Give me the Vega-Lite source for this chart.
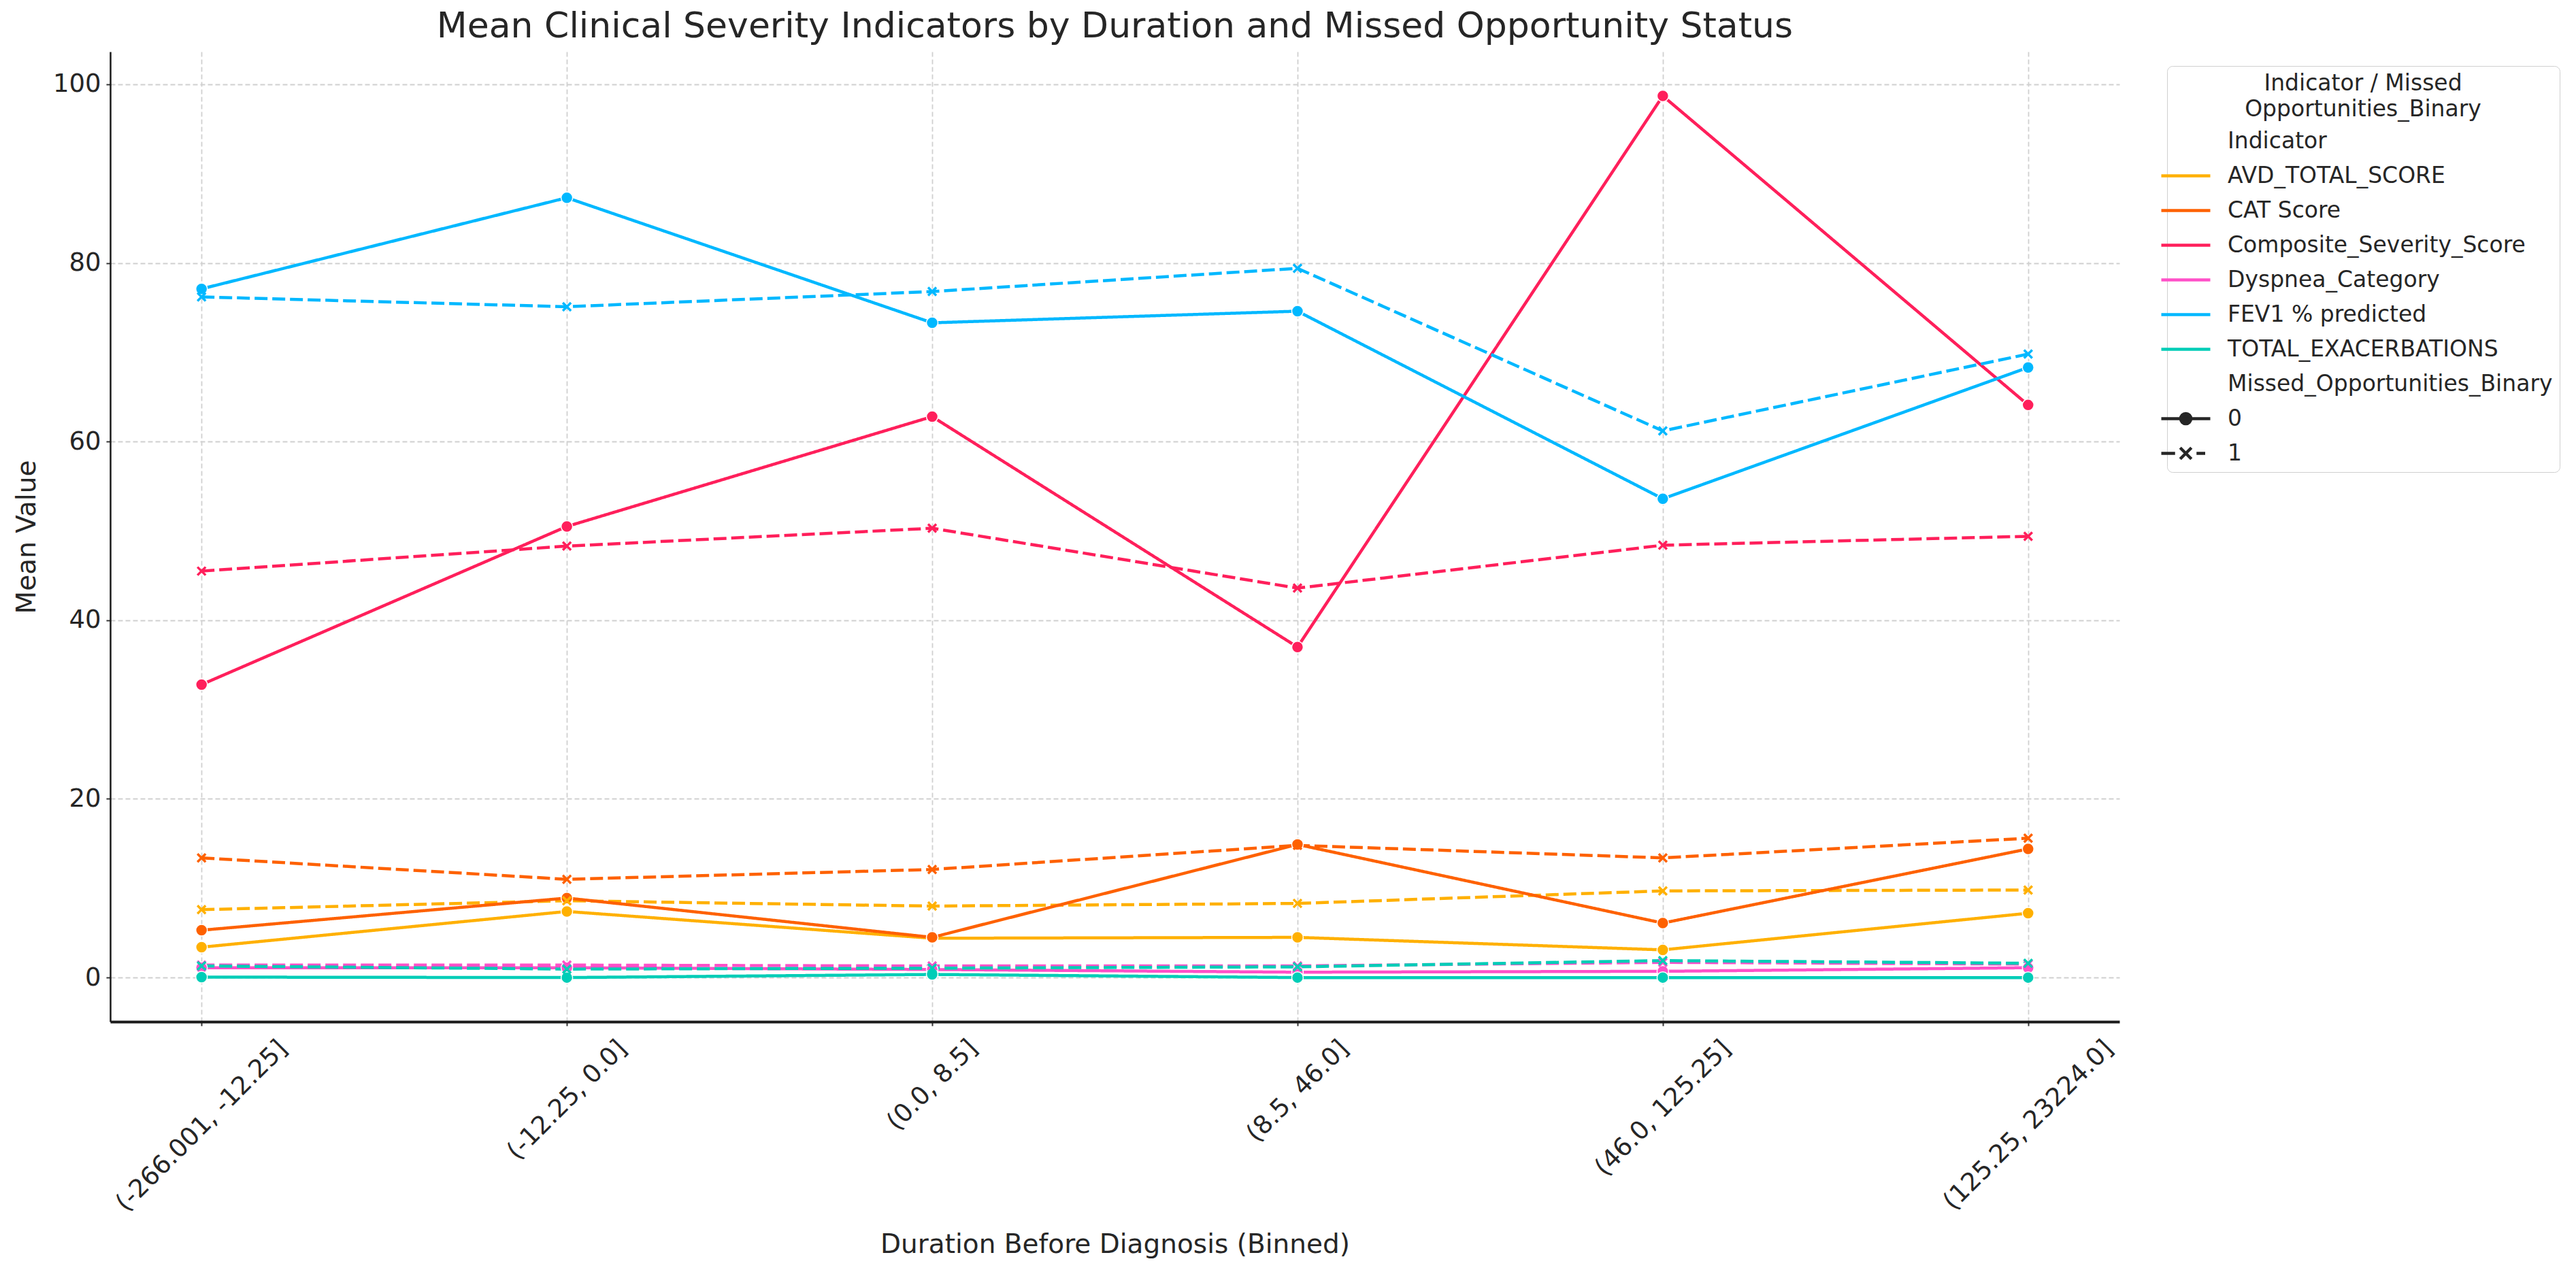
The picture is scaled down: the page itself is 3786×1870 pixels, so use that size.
{
  "$schema": "https://vega.github.io/schema/vega-lite/v6.json",
  "width": 2953,
  "height": 1426,
  "autosize": {"type": "none"},
  "padding": {"left": 162, "top": 76, "right": 671, "bottom": 368},
  "background": "white",
  "title": {
    "text": "Mean Clinical Severity Indicators by Duration and Missed Opportunity Status",
    "font": "DejaVu Sans",
    "fontSize": 52,
    "fontWeight": "normal",
    "color": "#262626",
    "anchor": "middle",
    "frame": "group",
    "baseline": "alphabetic",
    "offset": -31
  },
  "data": {
    "values": [
      {"Bin": "(-266.001, -12.25]", "Indicator": "AVD_TOTAL_SCORE", "Missed": "0", "Value": 3.4},
      {"Bin": "(-12.25, 0.0]", "Indicator": "AVD_TOTAL_SCORE", "Missed": "0", "Value": 7.4},
      {"Bin": "(0.0, 8.5]", "Indicator": "AVD_TOTAL_SCORE", "Missed": "0", "Value": 4.4},
      {"Bin": "(8.5, 46.0]", "Indicator": "AVD_TOTAL_SCORE", "Missed": "0", "Value": 4.5},
      {"Bin": "(46.0, 125.25]", "Indicator": "AVD_TOTAL_SCORE", "Missed": "0", "Value": 3.1},
      {"Bin": "(125.25, 23224.0]", "Indicator": "AVD_TOTAL_SCORE", "Missed": "0", "Value": 7.2},
      {"Bin": "(-266.001, -12.25]", "Indicator": "AVD_TOTAL_SCORE", "Missed": "1", "Value": 7.6},
      {"Bin": "(-12.25, 0.0]", "Indicator": "AVD_TOTAL_SCORE", "Missed": "1", "Value": 8.6},
      {"Bin": "(0.0, 8.5]", "Indicator": "AVD_TOTAL_SCORE", "Missed": "1", "Value": 8.0},
      {"Bin": "(8.5, 46.0]", "Indicator": "AVD_TOTAL_SCORE", "Missed": "1", "Value": 8.3},
      {"Bin": "(46.0, 125.25]", "Indicator": "AVD_TOTAL_SCORE", "Missed": "1", "Value": 9.7},
      {"Bin": "(125.25, 23224.0]", "Indicator": "AVD_TOTAL_SCORE", "Missed": "1", "Value": 9.8},
      {"Bin": "(-266.001, -12.25]", "Indicator": "CAT Score", "Missed": "0", "Value": 5.3},
      {"Bin": "(-12.25, 0.0]", "Indicator": "CAT Score", "Missed": "0", "Value": 8.9},
      {"Bin": "(0.0, 8.5]", "Indicator": "CAT Score", "Missed": "0", "Value": 4.5},
      {"Bin": "(8.5, 46.0]", "Indicator": "CAT Score", "Missed": "0", "Value": 14.9},
      {"Bin": "(46.0, 125.25]", "Indicator": "CAT Score", "Missed": "0", "Value": 6.1},
      {"Bin": "(125.25, 23224.0]", "Indicator": "CAT Score", "Missed": "0", "Value": 14.4},
      {"Bin": "(-266.001, -12.25]", "Indicator": "CAT Score", "Missed": "1", "Value": 13.4},
      {"Bin": "(-12.25, 0.0]", "Indicator": "CAT Score", "Missed": "1", "Value": 11.0},
      {"Bin": "(0.0, 8.5]", "Indicator": "CAT Score", "Missed": "1", "Value": 12.1},
      {"Bin": "(8.5, 46.0]", "Indicator": "CAT Score", "Missed": "1", "Value": 14.8},
      {"Bin": "(46.0, 125.25]", "Indicator": "CAT Score", "Missed": "1", "Value": 13.4},
      {"Bin": "(125.25, 23224.0]", "Indicator": "CAT Score", "Missed": "1", "Value": 15.6},
      {"Bin": "(-266.001, -12.25]", "Indicator": "Composite_Severity_Score", "Missed": "0", "Value": 32.8},
      {"Bin": "(-12.25, 0.0]", "Indicator": "Composite_Severity_Score", "Missed": "0", "Value": 50.5},
      {"Bin": "(0.0, 8.5]", "Indicator": "Composite_Severity_Score", "Missed": "0", "Value": 62.8},
      {"Bin": "(8.5, 46.0]", "Indicator": "Composite_Severity_Score", "Missed": "0", "Value": 37.0},
      {"Bin": "(46.0, 125.25]", "Indicator": "Composite_Severity_Score", "Missed": "0", "Value": 98.7},
      {"Bin": "(125.25, 23224.0]", "Indicator": "Composite_Severity_Score", "Missed": "0", "Value": 64.1},
      {"Bin": "(-266.001, -12.25]", "Indicator": "Composite_Severity_Score", "Missed": "1", "Value": 45.5},
      {"Bin": "(-12.25, 0.0]", "Indicator": "Composite_Severity_Score", "Missed": "1", "Value": 48.3},
      {"Bin": "(0.0, 8.5]", "Indicator": "Composite_Severity_Score", "Missed": "1", "Value": 50.3},
      {"Bin": "(8.5, 46.0]", "Indicator": "Composite_Severity_Score", "Missed": "1", "Value": 43.6},
      {"Bin": "(46.0, 125.25]", "Indicator": "Composite_Severity_Score", "Missed": "1", "Value": 48.4},
      {"Bin": "(125.25, 23224.0]", "Indicator": "Composite_Severity_Score", "Missed": "1", "Value": 49.4},
      {"Bin": "(-266.001, -12.25]", "Indicator": "Dyspnea_Category", "Missed": "0", "Value": 1.1},
      {"Bin": "(-12.25, 0.0]", "Indicator": "Dyspnea_Category", "Missed": "0", "Value": 1.1},
      {"Bin": "(0.0, 8.5]", "Indicator": "Dyspnea_Category", "Missed": "0", "Value": 0.9},
      {"Bin": "(8.5, 46.0]", "Indicator": "Dyspnea_Category", "Missed": "0", "Value": 0.6},
      {"Bin": "(46.0, 125.25]", "Indicator": "Dyspnea_Category", "Missed": "0", "Value": 0.7},
      {"Bin": "(125.25, 23224.0]", "Indicator": "Dyspnea_Category", "Missed": "0", "Value": 1.1},
      {"Bin": "(-266.001, -12.25]", "Indicator": "Dyspnea_Category", "Missed": "1", "Value": 1.4},
      {"Bin": "(-12.25, 0.0]", "Indicator": "Dyspnea_Category", "Missed": "1", "Value": 1.4},
      {"Bin": "(0.0, 8.5]", "Indicator": "Dyspnea_Category", "Missed": "1", "Value": 1.3},
      {"Bin": "(8.5, 46.0]", "Indicator": "Dyspnea_Category", "Missed": "1", "Value": 1.3},
      {"Bin": "(46.0, 125.25]", "Indicator": "Dyspnea_Category", "Missed": "1", "Value": 1.7},
      {"Bin": "(125.25, 23224.0]", "Indicator": "Dyspnea_Category", "Missed": "1", "Value": 1.5},
      {"Bin": "(-266.001, -12.25]", "Indicator": "FEV1 % predicted", "Missed": "0", "Value": 77.1},
      {"Bin": "(-12.25, 0.0]", "Indicator": "FEV1 % predicted", "Missed": "0", "Value": 87.3},
      {"Bin": "(0.0, 8.5]", "Indicator": "FEV1 % predicted", "Missed": "0", "Value": 73.3},
      {"Bin": "(8.5, 46.0]", "Indicator": "FEV1 % predicted", "Missed": "0", "Value": 74.6},
      {"Bin": "(46.0, 125.25]", "Indicator": "FEV1 % predicted", "Missed": "0", "Value": 53.6},
      {"Bin": "(125.25, 23224.0]", "Indicator": "FEV1 % predicted", "Missed": "0", "Value": 68.3},
      {"Bin": "(-266.001, -12.25]", "Indicator": "FEV1 % predicted", "Missed": "1", "Value": 76.2},
      {"Bin": "(-12.25, 0.0]", "Indicator": "FEV1 % predicted", "Missed": "1", "Value": 75.1},
      {"Bin": "(0.0, 8.5]", "Indicator": "FEV1 % predicted", "Missed": "1", "Value": 76.8},
      {"Bin": "(8.5, 46.0]", "Indicator": "FEV1 % predicted", "Missed": "1", "Value": 79.4},
      {"Bin": "(46.0, 125.25]", "Indicator": "FEV1 % predicted", "Missed": "1", "Value": 61.2},
      {"Bin": "(125.25, 23224.0]", "Indicator": "FEV1 % predicted", "Missed": "1", "Value": 69.8},
      {"Bin": "(-266.001, -12.25]", "Indicator": "TOTAL_EXACERBATIONS", "Missed": "0", "Value": 0.05},
      {"Bin": "(-12.25, 0.0]", "Indicator": "TOTAL_EXACERBATIONS", "Missed": "0", "Value": 0.0},
      {"Bin": "(0.0, 8.5]", "Indicator": "TOTAL_EXACERBATIONS", "Missed": "0", "Value": 0.35},
      {"Bin": "(8.5, 46.0]", "Indicator": "TOTAL_EXACERBATIONS", "Missed": "0", "Value": 0.0},
      {"Bin": "(46.0, 125.25]", "Indicator": "TOTAL_EXACERBATIONS", "Missed": "0", "Value": 0.0},
      {"Bin": "(125.25, 23224.0]", "Indicator": "TOTAL_EXACERBATIONS", "Missed": "0", "Value": 0.0},
      {"Bin": "(-266.001, -12.25]", "Indicator": "TOTAL_EXACERBATIONS", "Missed": "1", "Value": 1.3},
      {"Bin": "(-12.25, 0.0]", "Indicator": "TOTAL_EXACERBATIONS", "Missed": "1", "Value": 0.95},
      {"Bin": "(0.0, 8.5]", "Indicator": "TOTAL_EXACERBATIONS", "Missed": "1", "Value": 1.05},
      {"Bin": "(8.5, 46.0]", "Indicator": "TOTAL_EXACERBATIONS", "Missed": "1", "Value": 1.2},
      {"Bin": "(46.0, 125.25]", "Indicator": "TOTAL_EXACERBATIONS", "Missed": "1", "Value": 1.9},
      {"Bin": "(125.25, 23224.0]", "Indicator": "TOTAL_EXACERBATIONS", "Missed": "1", "Value": 1.6}
    ]
  },
  "encoding": {
    "x": {
      "field": "Bin",
      "type": "ordinal",
      "sort": ["(-266.001, -12.25]", "(-12.25, 0.0]", "(0.0, 8.5]", "(8.5, 46.0]", "(46.0, 125.25]", "(125.25, 23224.0]"],
      "scale": {"type": "point", "padding": 0.25},
      "title": "Duration Before Diagnosis (Binned)",
      "axis": {
        "grid": true,
        "labelAngle": -45,
        "labelAlign": "center",
        "labelBaseline": "middle",
        "labelFontSize": 37,
        "labelLimit": 1000,
        "labelPadding": {
          "condition": [
            {"test": "datum.value === '(-266.001, -12.25]'", "value": 147},
            {"test": "datum.value === '(-12.25, 0.0]'", "value": 109},
            {"test": "datum.value === '(0.0, 8.5]'", "value": 87},
            {"test": "datum.value === '(8.5, 46.0]'", "value": 96},
            {"test": "datum.value === '(46.0, 125.25]'", "value": 121}
          ],
          "value": 146
        },
        "domainWidth": 4,
        "titleY": 339,
        "titleBaseline": "alphabetic"
      }
    },
    "y": {
      "field": "Value",
      "type": "quantitative",
      "scale": {"domain": [-4.94, 103.65], "nice": false, "zero": false},
      "title": "Mean Value",
      "axis": {
        "values": [0, 20, 40, 60, 80, 100],
        "labelFontSize": 37,
        "labelPadding": 8,
        "domainWidth": 2.5,
        "titleX": -111,
        "titleBaseline": "alphabetic"
      }
    },
    "color": {
      "field": "Indicator",
      "type": "nominal",
      "scale": {
        "domain": ["Indicator", "AVD_TOTAL_SCORE", "CAT Score", "Composite_Severity_Score", "Dyspnea_Category", "FEV1 % predicted", "TOTAL_EXACERBATIONS", "Missed_Opportunities_Binary", "0", "1"],
        "range": ["transparent", "#FFB000", "#FE6100", "#FF1F5B", "#FF50C8", "#00B8FF", "#00CDB7", "transparent", "#262626", "#262626"]
      },
      "legend": {
        "orient": "none",
        "legendX": 3023,
        "legendY": 21,
        "title": ["Indicator / Missed\u00a0\u00a0\u00a0\u00a0\u00a0", "Opportunities_Binary"],
        "titleAnchor": "middle",
        "titleAlign": "center",
        "titleFontSize": 33,
        "titleFontWeight": "normal",
        "titleLineHeight": 38,
        "titlePadding": 12,
        "titleLimit": 1000,
        "labelFontSize": 33,
        "labelLimit": 1000,
        "labelOffset": 44,
        "symbolSize": 900,
        "symbolStrokeWidth": 4.5,
        "symbolType": "M-2.4,0H2.4",
        "rowPadding": 16,
        "padding": 10,
        "strokeColor": "#d0d0d0",
        "cornerRadius": 8,
        "fillColor": "white",
        "encode": {
          "symbols": {
            "update": {
              "shape": {"signal": "datum.value === '0' ? 'M-2.4,0H2.4M0.5,0A0.5,0.5,0,1,1,-0.5,0A0.5,0.5,0,1,1,0.5,0Z' : datum.value === '1' ? 'M-2.4,0H-1.05M1.05,0H1.9M-0.55,-0.55L0.55,0.55M-0.55,0.55L0.55,-0.55' : 'M-2.4,0H2.4'"},
              "fill": {"signal": "datum.value === '0' ? '#262626' : 'transparent'"},
              "strokeWidth": {"value": 4.5},
              "opacity": {"value": 1}
            }
          }
        }
      }
    }
  },
  "layer": [
    {
      "mark": {"type": "line", "strokeWidth": 4.5},
      "encoding": {
        "strokeDash": {
          "field": "Missed",
          "type": "nominal",
          "scale": {"domain": ["0", "1"], "range": [[1, 0], [19, 7]]},
          "legend": null
        }
      }
    },
    {
      "transform": [{"filter": "datum.Missed === '0'"}],
      "mark": {"type": "point", "shape": "circle", "filled": true, "size": 289, "stroke": "white", "strokeWidth": 1.5, "opacity": 1}
    },
    {
      "transform": [{"filter": "datum.Missed === '1'"}],
      "mark": {"type": "point", "shape": "M-1,-1L1,1M-1,1L1,-1", "filled": false, "size": 144, "strokeWidth": 3.5, "opacity": 1}
    }
  ],
  "config": {
    "font": "DejaVu Sans",
    "view": {"stroke": null},
    "axis": {
      "labelFont": "DejaVu Sans",
      "titleFont": "DejaVu Sans",
      "labelColor": "#262626",
      "titleColor": "#262626",
      "titleFontSize": 39,
      "titleFontWeight": "normal",
      "domainColor": "#1a1a1a",
      "tickColor": "#333333",
      "tickSize": 6,
      "tickWidth": 2,
      "gridColor": "#d0d0d0",
      "gridDash": [7, 4],
      "gridWidth": 1.8
    },
    "legend": {
      "labelFont": "DejaVu Sans",
      "titleFont": "DejaVu Sans",
      "labelColor": "#262626",
      "titleColor": "#262626"
    }
  }
}
